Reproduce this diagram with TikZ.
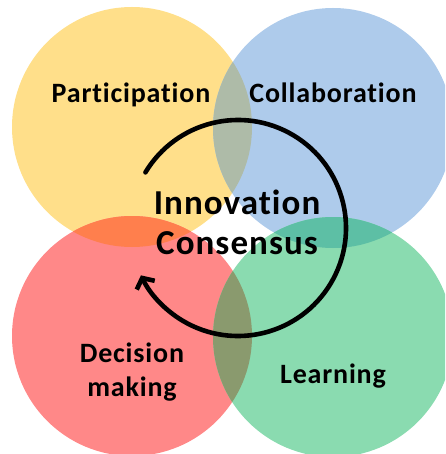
\documentclass[tikz,border=0pt]{standalone}
\usepackage{fontspec}
\setmainfont{Carlito}[LetterSpace=3, Ligatures=NoCommon]
\usetikzlibrary{arrows.meta}

\definecolor{sunny}{RGB}{255,223,138}
\definecolor{sky}{RGB}{174,203,235}
\definecolor{coral}{RGB}{255,136,136}
\definecolor{mint}{RGB}{138,219,176}
\definecolor{sunnysky}{RGB}{174,187,168}
\definecolor{sunnycoral}{RGB}{255,127,77}
\definecolor{skymint}{RGB}{93,191,165}
\definecolor{coralmint}{RGB}{138,154,110}

\tikzset{
  petal/.style={font=\fontsize{28}{34}\selectfont\bfseries, align=center},
  hubtext/.style={font=\fontsize{35}{40}\selectfont\bfseries, align=center},
  cycle/.style={line width=4.6pt, line cap=round, -{Straight Barb[length=8pt,width=20pt]}}
}

\begin{document}
\begin{tikzpicture}[x=1pt,y=-1pt]
            \clip (0,0) rectangle (445,454);
            \coordinate (part) at (132,127);
            \coordinate (collab) at (333,128);
            \coordinate (decide) at (132,336);
            \coordinate (learn) at (333,337);
            \coordinate (hub) at (238,228);
            % the four circles
            \fill[sunny] (part) circle[radius=120];
            \fill[sky] (collab) circle[radius=120];
            \fill[coral] (decide) circle[radius=120];
            \fill[mint] (learn) circle[radius=120];
            % where two of them overlap
            \begin{scope}
                \clip (part) circle[radius=120];
                \fill[sunnysky] (collab) circle[radius=120];
                \fill[sunnycoral] (decide) circle[radius=120];
            \end{scope}
            \begin{scope}
                \clip (learn) circle[radius=120];
                \fill[skymint] (collab) circle[radius=120];
                \fill[coralmint] (decide) circle[radius=120];
            \end{scope}
            \draw[cycle] (hub) ++(-149:108) arc[start angle=-149, end angle=154, radius=108];
            \node[petal, anchor=base] (ptext) at (131,103) {Participation};
            \node[petal, anchor=base] (ctext) at (333,103) {Collaboration};
            \node[petal] (dtext) at (132,372) {Decision\\making};
            \node[petal, anchor=base] (ltext) at (333,383) {Learning};
            \node[hubtext] (htext) at (237,222) {Innovation\\Consensus};
        \end{tikzpicture}
\end{document}
